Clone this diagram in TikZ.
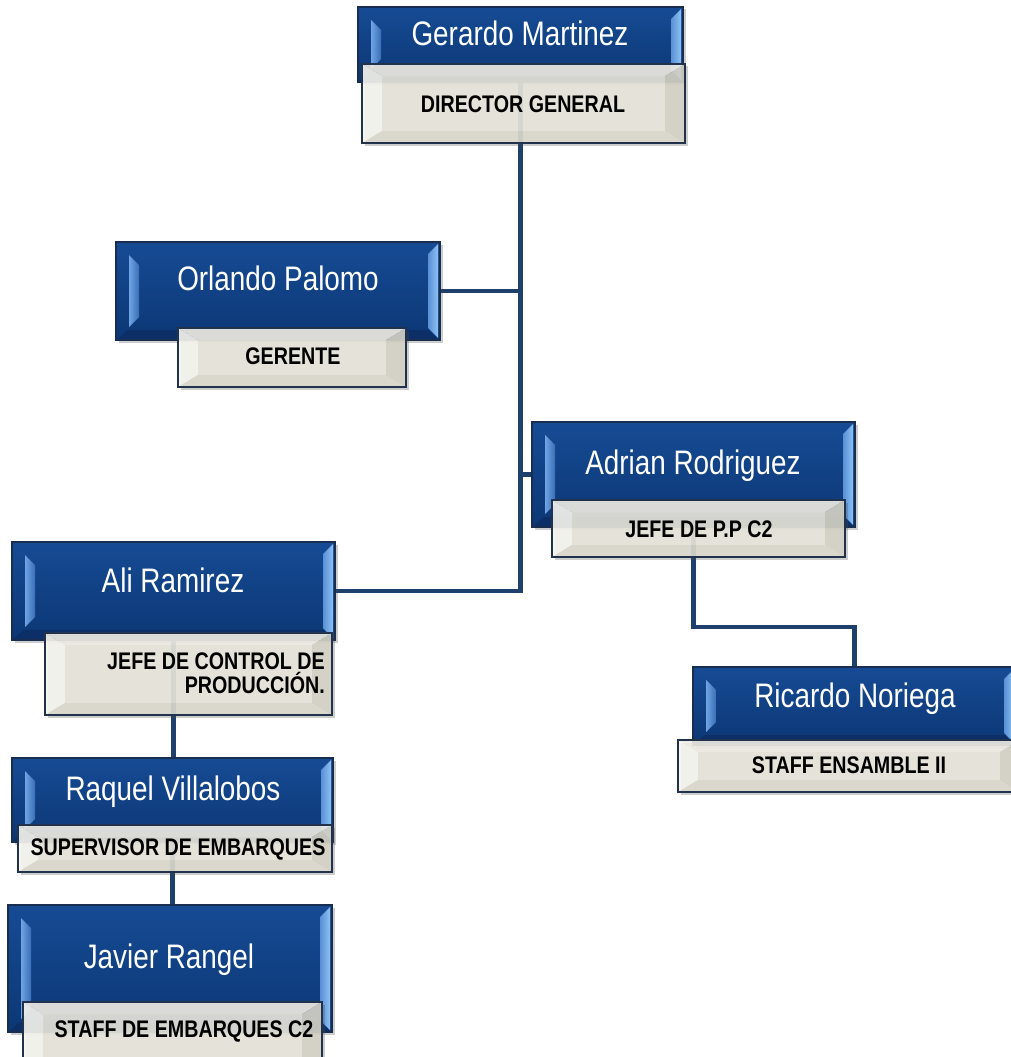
\documentclass[tikz,border=0pt]{standalone}
\usepackage{fontspec}
\newfontfamily\narrowsans[FakeStretch=0.82]{Liberation Sans}
\usetikzlibrary{shadows,fit}

\definecolor{facetop}{HTML}{164B94}
\definecolor{facebot}{HTML}{0C3775}
\definecolor{edgeblue}{HTML}{192D4E}
\definecolor{bevelLout}{HTML}{6FA4E4}
\definecolor{bevelLin}{HTML}{3A6DB6}
\definecolor{bevelRin}{HTML}{5A90D6}
\definecolor{bevelRout}{HTML}{8CC2F4}
\definecolor{bluebottom}{HTML}{0B2F66}
\definecolor{connector}{HTML}{1D406C}
\definecolor{beigeface}{HTML}{E8E6DB}
\definecolor{beigelight}{HTML}{F6F5EF}
\definecolor{beigetop}{HTML}{EFEDE5}
\definecolor{beigeright}{HTML}{D5D3C6}
\definecolor{beigebottom}{HTML}{DCDACE}
\definecolor{edgebeige}{HTML}{22324C}

\tikzset{
  softshadow/.style={drop shadow={shadow xshift=2.5pt, shadow yshift=-2.5pt, opacity=0.28, fill=black!70}},
  bluebox/.style={draw=edgeblue, line width=1.3pt, inner sep=0pt, softshadow,
    path picture={
      \coordinate (pNW) at (path picture bounding box.north west);
      \coordinate (pNE) at (path picture bounding box.north east);
      \coordinate (pSW) at (path picture bounding box.south west);
      \coordinate (pSE) at (path picture bounding box.south east);
      \shade[top color=facetop, bottom color=facebot] (pSW) rectangle (pNE);
      \fill[bluebottom] (pSW) -- ([shift={(12pt,10pt)}]pSW) -- ([shift={(-12pt,10pt)}]pSE) -- (pSE) -- cycle;
      \shade[left color=bevelLout, right color=bevelLin]
        ([shift={(13pt,-13pt)}]pNW) -- ([shift={(23pt,-23pt)}]pNW) --
        ([shift={(23pt,23pt)}]pSW) -- ([shift={(13pt,13pt)}]pSW) -- cycle;
      \shade[left color=bevelRin, right color=bevelRout]
        ([shift={(-12pt,-12pt)}]pNE) -- ([shift={(-2pt,-2pt)}]pNE) --
        ([shift={(-2pt,2pt)}]pSE) -- ([shift={(-12pt,12pt)}]pSE) -- cycle;
    }},
  rolebox/.style={draw=edgebeige, line width=1.6pt, inner sep=0pt, softshadow,
    path picture={
      \coordinate (pNW) at (path picture bounding box.north west);
      \coordinate (pNE) at (path picture bounding box.north east);
      \coordinate (pSW) at (path picture bounding box.south west);
      \coordinate (pSE) at (path picture bounding box.south east);
      \begin{scope}[fill opacity=0.9]
        \fill[beigetop] (pNW) -- (pNE) -- ([shift={(-20pt,-12pt)}]pNE) -- ([shift={(20pt,-12pt)}]pNW) -- cycle;
        \fill[beigelight] (pNW) -- ([shift={(20pt,-12pt)}]pNW) -- ([shift={(20pt,12pt)}]pSW) -- (pSW) -- cycle;
        \fill[beigeright] (pNE) -- ([shift={(-20pt,-12pt)}]pNE) -- ([shift={(-20pt,12pt)}]pSE) -- (pSE) -- cycle;
        \fill[beigebottom] (pSW) -- ([shift={(20pt,12pt)}]pSW) -- ([shift={(-20pt,12pt)}]pSE) -- (pSE) -- cycle;
        \fill[beigeface] ([shift={(20pt,-12pt)}]pNW) rectangle ([shift={(-20pt,12pt)}]pSE);
      \end{scope}
    }},
  nametext/.style={anchor=base, inner sep=0pt, text=white,
    font=\narrowsans\fontsize{34}{36}\selectfont},
  roletext/.style={anchor=base, inner sep=0pt, text=black,
    font=\narrowsans\bfseries\fontsize{24}{24}\selectfont},
  link/.style={draw=connector, line width=4.5pt},
}

\begin{document}
\begin{tikzpicture}[x=1pt, y=-1pt]
  \useasboundingbox (0,0) rectangle (1011,1057);
  \fill[white] (0,0) rectangle (1011,1057);
  \clip (0,0) rectangle (1011,1057);

  % corners of the blue name panels
  \path
    coordinate (gmA) at (358,7)    coordinate (gmB) at (683,82)
    coordinate (opA) at (116,242)  coordinate (opB) at (440,340)
    coordinate (arA) at (532,422)  coordinate (arB) at (855,527)
    coordinate (alA) at (12,542)   coordinate (alB) at (335,640)
    coordinate (rnA) at (693,667)  coordinate (rnB) at (1016,745)
    coordinate (rvA) at (12,758)   coordinate (rvB) at (333,842)
    coordinate (jrA) at (8,905)    coordinate (jrB) at (332,1032);

  % invisible placeholders so the connectors can be drawn first
  \foreach \n in {gm,op,ar,al,rn,rv,jr}
    \node[inner sep=0pt, fit=(\n A) (\n B)] (\n) {};

  % connectors
  \coordinate (elbow) at (0,627);
  \draw[link] (gm.center) |- (al.east);
  \draw[link] (op.east) -- (op.east -| gm.center);
  \draw[link] (gm.center |- ar.west) -- (ar.west);
  \draw[link] (ar.center) -- (ar.center |- elbow) -| (rn.north);
  \draw[link] (al.center) -- (al.center |- rv.north);
  \draw[link] (rv.center) -- (rv.center |- jr.north);

  % name panels
  \node[bluebox, fit=(gmA) (gmB)] (gmbox) {};
  \node[bluebox, fit=(opA) (opB)] (opbox) {};
  \node[bluebox, fit=(arA) (arB)] (arbox) {};
  \node[bluebox, fit=(alA) (alB)] (albox) {};
  \node[bluebox, fit=(rnA) (rnB)] (rnbox) {};
  \node[bluebox, fit=(rvA) (rvB)] (rvbox) {};
  \node[bluebox, fit=(jrA) (jrB)] (jrbox) {};

  % role panels
  \node[rolebox, fit={(362,64) (685,143)}]   (gmrole) {};
  \node[rolebox, fit={(178,328) (406,387)}]  (oprole) {};
  \node[rolebox, fit={(552,500) (845,557)}]  (arrole) {};
  \node[rolebox, fit={(45,633) (332,715)}]   (alrole) {};
  \node[rolebox, fit={(678,740) (1020,792)}] (rnrole) {};
  \node[rolebox, fit={(18,825) (332,872)}]   (rvrole) {};
  \node[rolebox, fit={(23,1002) (322,1070)}] (jrrole) {};

  % names
  \node[nametext] (gmname) at (520,46)  {Gerardo Martinez};
  \node[nametext] (opname) at (278,290) {Orlando Palomo};
  \node[nametext] (arname) at (693,474) {Adrian Rodriguez};
  \node[nametext] (alname) at (173,592) {Ali Ramirez};
  \node[nametext] (rnname) at (855,707) {Ricardo Noriega};
  \node[nametext] (rvname) at (173,800) {Raquel Villalobos};
  \node[nametext] (jrname) at (169,968) {Javier Rangel};

  % roles
  \node[roletext] (gmtitle) at (523,112)  {DIRECTOR GENERAL};
  \node[roletext] (optitle) at (293,364)  {GERENTE};
  \node[roletext] (artitle) at (699,537)  {JEFE DE P.P C2};
  \node[roletext, anchor=east, align=right] (altitle) at (325,673)
    {JEFE DE CONTROL DE\\PRODUCCIÓN.};
  \node[roletext] (rntitle) at (849,773)  {STAFF ENSAMBLE II};
  \node[roletext] (rvtitle) at (178,855)  {SUPERVISOR DE EMBARQUES};
  \node[roletext] (jrtitle) at (184,1037) {STAFF DE EMBARQUES C2};
\end{tikzpicture}
\end{document}
